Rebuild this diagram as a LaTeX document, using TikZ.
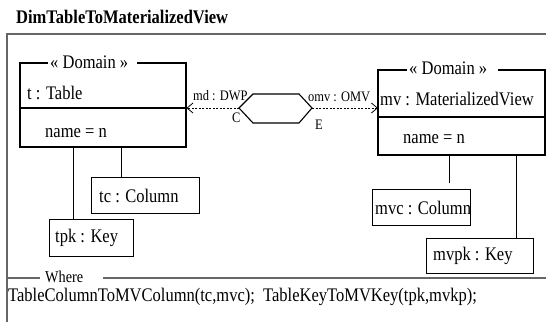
\documentclass[tikz,border=0pt]{standalone}
\usepackage{fontspec}
\setmainfont[FakeStretch=0.86]{Liberation Serif}
\usetikzlibrary{arrows.meta,calc}
\newcommand\bodyf{\fontsize{19.2}{22}\selectfont}
\newcommand\smallf{\fontsize{14.5}{17}\selectfont}
\newcommand\wheref{\fontsize{16.6}{19}\selectfont}
\newcommand\titlef{\bfseries\fontsize{19.2}{22}\selectfont}
\begin{document}
\begin{tikzpicture}[x=1pt,y=-1pt,
  frame/.style={draw=black!60, line width=1.6pt},
  box/.style={draw=black, line width=1.1pt},
  objbox/.style={draw=black, line width=1.1pt, anchor=north west, inner sep=0pt},
  intxt/.style={anchor=west, inner sep=0pt, font=\bodyf},
  txt/.style={anchor=base west, inner sep=0pt, font=\bodyf},
  lbl/.style={anchor=base west, inner sep=0pt, font=\smallf},
  link/.style={draw=black, line width=0.9pt},
  dep/.style={draw=black, line width=0.8pt, dash pattern=on 2pt off 1.5pt, -{Straight Barb[length=6pt,width=10pt]}}]
\useasboundingbox (0,0) rectangle (546,322);
% title and frame
\node[anchor=base west, inner sep=0pt, font=\titlef] (title) at (16,23) {DimTableToMaterializedView};
\draw[frame] (546,34) -- (7,34) -- (7,322);
% left domain box
\node[minimum width=166pt, minimum height=84pt, anchor=north west, inner sep=0pt] (tbox) at (20,63) {};
\draw[box] (48,63) -- (20,63) -- (20,147) -- (186,147) -- (186,63) -- (137,63);
\draw[box] (20,108) -- (186,108);
\node[txt] (tdom) at (50,68) {« Domain »};
\node[txt] (tname) at (27,99) {t : Table};
\node[txt] (tattr) at (45,137) {name = n};
% right domain box
\node[minimum width=167pt, minimum height=85pt, anchor=north west, inner sep=0pt] (mvbox) at (378,70) {};
\draw[box] (407,70) -- (378,70) -- (378,155) -- (545,155) -- (545,70) -- (498,70);
\draw[box] (378,117) -- (545,117);
\node[txt] (mvdom) at (409,74) {« Domain »};
\node[txt] (mvname) at (380,105) {mv : MaterializedView};
\node[txt] (mvattr) at (403,143) {name = n};
% hexagon relation
\draw[box] (239,108) -- (253,94) -- (299,94) -- (312,108) -- (299,123) -- (253,123) -- cycle;
\coordinate (hexL) at (239,108);
\coordinate (hexR) at (312,108);
\draw[dep] (hexL) -- (hexL -| tbox.east);
\draw[dep] (hexR) -- (hexR -| mvbox.west);
\node[lbl] (mdl) at (193,100) {md : DWP};
\node[lbl] (cl) at (232,122) {C};
\node[lbl] (omvl) at (308,101) {omv : OMV};
\node[lbl] (el) at (315,129) {E};
% object boxes
\node[objbox, minimum width=108pt, minimum height=36pt] (tc) at (91,177) {};
\node[intxt] (tct) at ($(tc.west)+(8,0)$) {tc : Column};
\node[objbox, minimum width=84pt, minimum height=37pt] (tpk) at (49,219) {};
\node[intxt] (tpkt) at ($(tpk.west)+(6,0)$) {tpk : Key};
\node[objbox, minimum width=98pt, minimum height=36pt] (mvc) at (372,189) {};
\node[intxt] (mvct) at ($(mvc.west)+(3,0)$) {mvc : Column};
\node[objbox, minimum width=107pt, minimum height=35pt] (mvpk) at (426,238) {};
\node[intxt] (mvpkt) at ($(mvpk.west)+(7,0)$) {mvpk : Key};
% links
\coordinate (a1) at ($(tbox.south west)+(53,0)$);
\coordinate (a2) at ($(tbox.south west)+(101,0)$);
\coordinate (b1) at ($(mvbox.south west)+(71,0)$);
\coordinate (b1e) at ($(b1)+(0,28)$);
\coordinate (b2) at ($(mvbox.south west)+(138,0)$);
\draw[link] (a1) -- (a1 |- tpk.north);
\draw[link] (a2) -- (a2 |- tc.north);
\draw[link] (b1) -- (b1e);
\draw[link] (b2) -- (b2 |- mvpk.north);
% where section
\node[anchor=base west, inner sep=0pt, font=\wheref] (where) at (45,282.5) {Where};
\draw[frame] (7,278) -- (40,278);
\draw[frame] (103,278) -- (546,278);
\node[txt] (calls) at (8,301.5) {TableColumnToMVColumn(tc,mvc);\ \ TableKeyToMVKey(tpk,mvkp);};
\end{tikzpicture}
\end{document}
